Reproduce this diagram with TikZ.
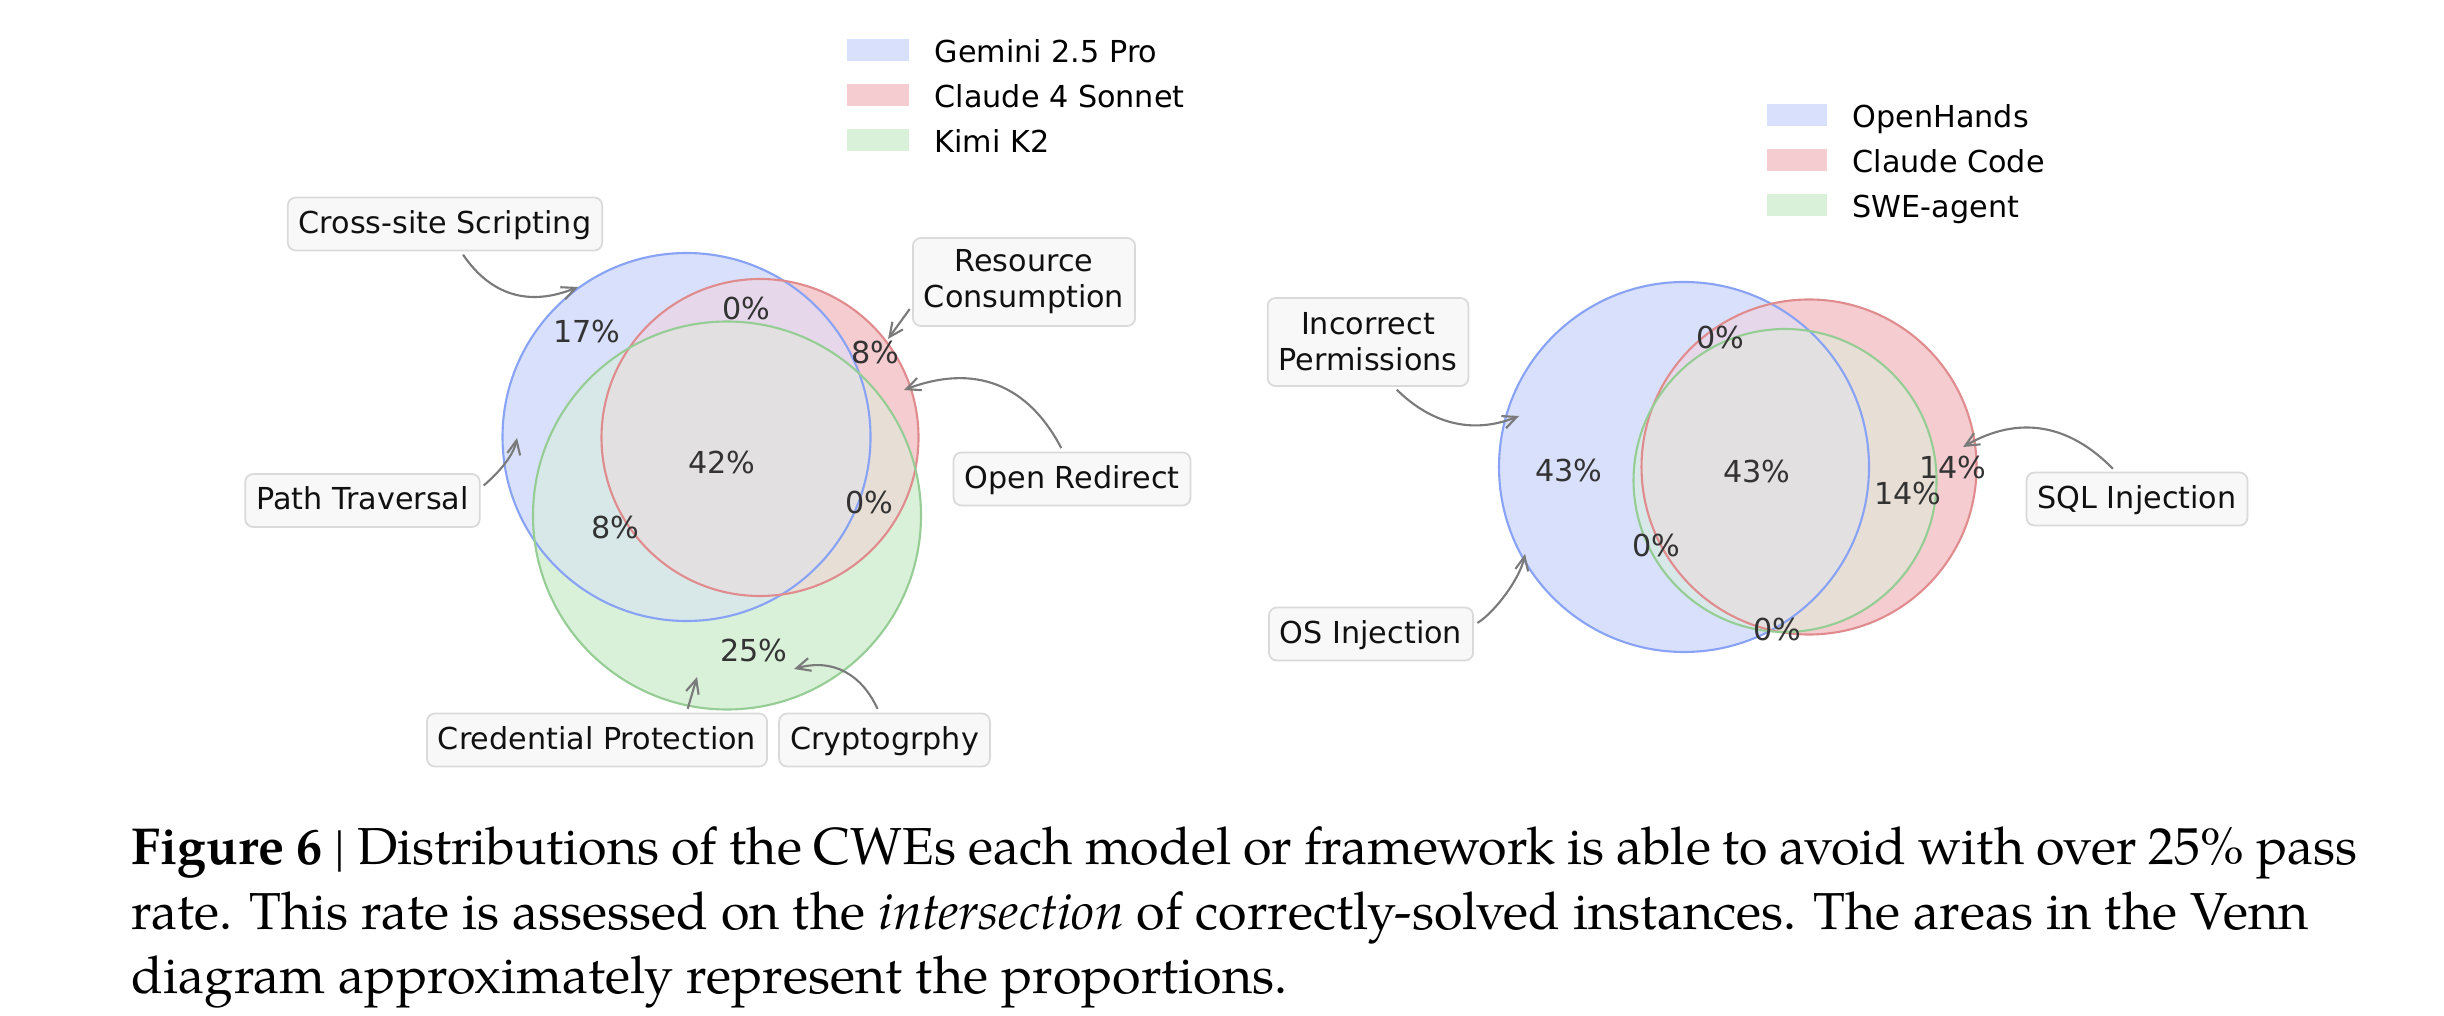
\documentclass[tikz,border=0pt]{standalone}
\usepackage{fontspec}
\setmainfont{TeX Gyre Pagella}
\newfontfamily\dvsans{DejaVu Sans}
\usetikzlibrary{arrows.meta}
\definecolor{colA}{HTML}{D9E0FB}
\definecolor{colB}{HTML}{F5CCCF}
\definecolor{colC}{HTML}{D9F0D9}
\definecolor{colAB}{HTML}{E6D8EA}
\definecolor{colAC}{HTML}{D8E7E8}
\definecolor{colBC}{HTML}{E7DFD5}
\definecolor{colABC}{HTML}{E2E0E1}
\definecolor{edgA}{HTML}{88A3F5}
\definecolor{edgB}{HTML}{E08C8F}
\definecolor{edgC}{HTML}{95CD95}
\definecolor{boxfill}{HTML}{F8F8F8}
\definecolor{boxedge}{HTML}{DADADA}
\definecolor{arrowgray}{HTML}{7A7A7A}
\definecolor{pcttext}{HTML}{333333}
\definecolor{labeltext}{HTML}{111111}
\begin{document}
\begin{tikzpicture}[x=0.1mm,y=-0.1mm,
  lbl/.style={draw=boxedge,fill=boxfill,rounded corners=0.8mm,line width=0.5pt,inner xsep=1.1mm,inner ysep=0pt,font=\dvsans\fontsize{8.6}{10.3}\selectfont,text=labeltext},
  lblone/.style={lbl,text height=0.76em,text depth=0.24em,minimum height=5.3mm},
  lbltwo/.style={lbl,align=center,minimum height=8.8mm},
  pct/.style={font=\dvsans\fontsize{8.6}{10.3}\selectfont,text=pcttext,inner sep=0pt},
  leg/.style={font=\dvsans\fontsize{8.6}{10.3}\selectfont,text=black,anchor=west,inner sep=0pt,text height=0.73em,text depth=0pt},
  arr/.style={draw=arrowgray,line width=0.6pt,-{Straight Barb[length=1.4mm,width=1.3mm]},shorten <=0.4mm},
  vedge/.style={line width=0.6pt},
  captxt/.style={font=\fontsize{14.8}{18}\selectfont,anchor=base west,inner sep=0pt,text=black}
]
\useasboundingbox (0,0) rectangle (2444,1016);
\fill[white] (0,0) rectangle (2444,1016);

% ---------- left Venn ----------
\coordinate (LA) at (686.5,437);
\coordinate (LB) at (760,437.5);
\coordinate (LC) at (727,515.5);
\def\lra{18.4mm}\def\lrb{15.85mm}\def\lrc{19.4mm}
\fill[colA] (LA) circle[radius=\lra];
\fill[colB] (LB) circle[radius=\lrb];
\fill[colC] (LC) circle[radius=\lrc];
\begin{scope}
  \clip (LB) circle[radius=\lrb];
  \fill[colBC] (LC) circle[radius=\lrc];
\end{scope}
\begin{scope}
  \clip (LA) circle[radius=\lra];
  \fill[colAB] (LB) circle[radius=\lrb];
  \fill[colAC] (LC) circle[radius=\lrc];
  \clip (LB) circle[radius=\lrb];
  \fill[colABC] (LC) circle[radius=\lrc];
\end{scope}
\draw[vedge,edgA] (LA) circle[radius=\lra];
\draw[vedge,edgB] (LB) circle[radius=\lrb];
\draw[vedge,edgC] (LC) circle[radius=\lrc];

\node[pct] (l17) at (587,332) {17\%};
\node[pct] (l0a) at (746,309) {0\%};
\node[pct] (l8a) at (875,353) {8\%};
\node[pct] (l42) at (722,462) {42\%};
\node[pct] (l0b) at (869,502) {0\%};
\node[pct] (l8b) at (615,527) {8\%};
\node[pct] (l25) at (754,650) {25\%};

% legend left
\fill[colA] (847,39) rectangle (909,61);
\fill[colB] (847,84) rectangle (909,106);
\fill[colC] (847,129) rectangle (909,151);
\node[leg] (lg1) at (934,50) {Gemini 2.5 Pro};
\node[leg] (lg2) at (934,95) {Claude 4 Sonnet};
\node[leg] (lg3) at (934,140) {Kimi K2};

% boxes left
\node[lblone] (cs) at (445,224) {Cross-site Scripting};
\node[lbltwo] (rs) at (1024,282) {Resource\\Consumption};
\node[lblone] (pt) at (362.5,500.5) {Path Traversal};
\node[lblone] (or) at (1072,479) {Open Redirect};
\node[lblone] (cp) at (597,740) {Credential Protection};
\node[lblone] (cr) at (884.5,740) {Cryptogrphy};

\coordinate (csT) at (578,287);
\coordinate (rsT) at (888,339);
\coordinate (orT) at (904,390);
\coordinate (ptT) at (517,438);
\coordinate (cpT) at (697,677);
\coordinate (crT) at (794,669);

\draw[arr] (cs.-60) .. controls +(30,44) and +(-49,20) .. (csT);
\draw[arr] (rs.192) -- (rsT);
\draw[arr] (or.108) .. controls +(-35,-67) and +(71,-27) .. (orT);
\draw[arr] (pt.6) .. controls +(14,-12) and +(-4,20) .. (ptT);
\draw[arr] (cp.17) -- (cpT);
\draw[arr] (cr.101) .. controls +(-17,-37.5) and +(39.5,-11.3) .. (crT);

% ---------- right Venn ----------
\coordinate (RA) at (1684,467);
\coordinate (RB) at (1809,467);
\coordinate (RC) at (1785,480.5);
\def\rra{18.5mm}\def\rrb{16.75mm}\def\rrc{15.15mm}
\fill[colA] (RA) circle[radius=\rra];
\fill[colB] (RB) circle[radius=\rrb];
\fill[colC] (RC) circle[radius=\rrc];
\begin{scope}
  \clip (RB) circle[radius=\rrb];
  \fill[colBC] (RC) circle[radius=\rrc];
\end{scope}
\begin{scope}
  \clip (RA) circle[radius=\rra];
  \fill[colAB] (RB) circle[radius=\rrb];
  \fill[colAC] (RC) circle[radius=\rrc];
  \clip (RB) circle[radius=\rrb];
  \fill[colABC] (RC) circle[radius=\rrc];
\end{scope}
\draw[vedge,edgA] (RA) circle[radius=\rra];
\draw[vedge,edgB] (RB) circle[radius=\rrb];
\draw[vedge,edgC] (RC) circle[radius=\rrc];

\node[pct] (r0a) at (1720,338) {0\%};
\node[pct] (r43a) at (1569,470) {43\%};
\node[pct] (r43b) at (1757,471) {43\%};
\node[pct] (r14a) at (1953,467) {14\%};
\node[pct] (r14b) at (1908,493) {14\%};
\node[pct] (r0b) at (1656,545) {0\%};
\node[pct] (r0c) at (1777,629) {0\%};

% legend right
\fill[colA] (1767,104) rectangle (1827,126);
\fill[colB] (1767,149) rectangle (1827,171);
\fill[colC] (1767,194) rectangle (1827,216);
\node[leg] (rg1) at (1852,115) {OpenHands};
\node[leg] (rg2) at (1852,160) {Claude Code};
\node[leg] (rg3) at (1852,205) {SWE-agent};

% boxes right
\node[lbltwo] (ip) at (1368,342) {Incorrect\\Permissions};
\node[lblone] (os) at (1371,634) {OS Injection};
\node[lblone] (sq) at (2137,499) {SQL Injection};

\coordinate (ipT) at (1519,416);
\coordinate (osT) at (1525,554);
\coordinate (sqT) at (1963,447);

\draw[arr] (ip.-60) .. controls +(36.5,36) and +(-47.5,19) .. (ipT);
\draw[arr] (os.5) .. controls +(20,-12) and +(-5,25) .. (osT);
\draw[arr] (sq.128) .. controls +(-45.5,-46.7) and +(56.5,-32.7) .. (sqT);

% ---------- caption ----------
\node[captxt] (cap1) at (131,864) {\hbox to 222.6mm{\textbf{Figure 6} \textbar{} Distributions of the CWEs each model or framework is able to avoid with over 25\% pass}};
\node[captxt] (cap2) at (131,929) {rate. This rate is assessed on the \textit{intersection} of correctly-solved instances. The areas in the Venn};
\node[captxt] (cap3) at (131,993) {diagram approximately represent the proportions.};
\end{tikzpicture}
\end{document}
